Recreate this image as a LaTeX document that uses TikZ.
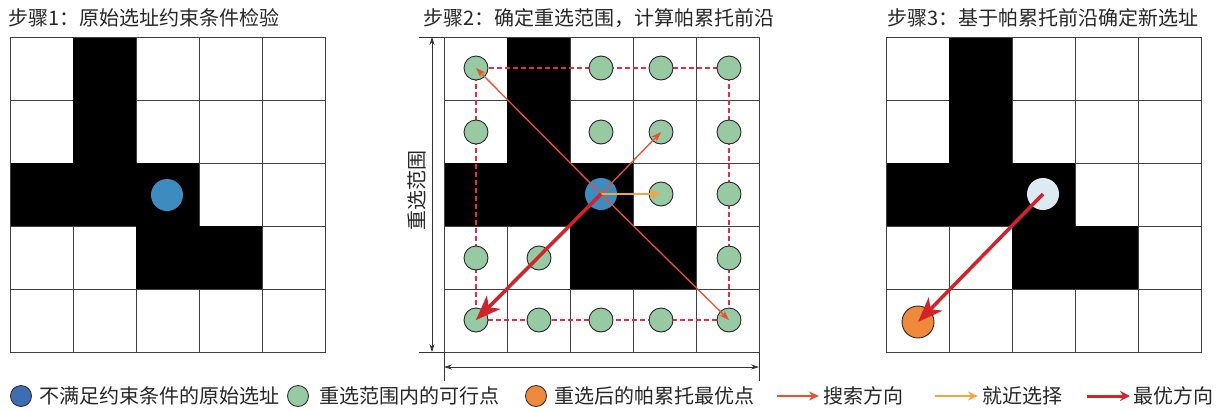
\documentclass[tikz,border=0pt]{standalone}
\usepackage{fontspec}
\setmainfont{Noto Sans CJK SC}
\usetikzlibrary{arrows.meta}
\definecolor{dotblue}{HTML}{3D8BBF}
\definecolor{legblue}{HTML}{3F6DB4}
\definecolor{dotgreen}{HTML}{97C9A2}
\definecolor{dotorange}{HTML}{EF8A3D}
\definecolor{dotlight}{HTML}{DCEAF2}
\definecolor{searchc}{HTML}{E9502E}
\definecolor{nearc}{HTML}{F3A644}
\definecolor{bestc}{HTML}{D2232A}
\definecolor{rangec}{HTML}{E03040}
\newcommand\mygrid[1]{%
  \begin{scope}[shift={(#1,37)}]
    \foreach \i in {0,...,5} {
      \draw[cellline] (\i*63,0) -- (\i*63,315);
      \draw[cellline] (0,\i*63) -- (315,\i*63);
    }
    \fill[black] (63,0) rectangle (126,126);
    \fill[black] (0,126) rectangle (189,189);
    \fill[black] (126,189) rectangle (252,252);
    \draw[cellline] (0,0) rectangle (315,315);
  \end{scope}}
\begin{document}
\begin{tikzpicture}[x=1pt,y=-1pt,
  cellline/.style={draw=black!75, line width=0.9pt},
  bigdot/.style={circle, minimum size=32pt, inner sep=0pt},
  gdot/.style={circle, draw=black!85, line width=0.9pt, fill=dotgreen, minimum size=24pt, inner sep=0pt},
  legdot/.style={circle, draw=black!80, line width=0.9pt, minimum size=21pt, inner sep=0pt},
  ttl/.style={font=\fontsize{20}{24}\selectfont, text=black!85, inner sep=0pt, anchor=west},
  legtxt/.style={font=\fontsize{20}{24}\selectfont, text=black!85, inner sep=0pt, anchor=west},
  search/.style={draw=searchc, line width=1.3pt, -{Stealth[length=10pt,width=7pt]}},
  nearsel/.style={draw=nearc, line width=2pt, -{Stealth[length=12pt,width=10pt]}},
  best/.style={draw=bestc, line width=3.5pt, -{Stealth[length=25pt,width=19pt,inset=7pt]}},
  dimline/.style={draw=black!80, line width=0.7pt},
  rangebox/.style={draw=rangec, line width=1.2pt, dash pattern=on 5pt off 3pt},
]
\useasboundingbox (0,0) rectangle (1217,410);

% titles
\node[ttl] (t1) at (8,18) {步骤1：原始选址约束条件检验};
\node[ttl] (t2) at (423,18) {步骤2：确定重选范围，计算帕累托前沿};
\node[ttl] (t3) at (887,18) {步骤3：基于帕累托前沿确定新选址};

% grids
\mygrid{10}
\mygrid{444}
\mygrid{886}

% step 1
\node[bigdot, fill=dotblue] (b1) at (167,195) {};

% step 2 range box
\coordinate (rtl) at (476,68);
\coordinate (rbr) at (729,320);
\draw[rangebox] (rtl) rectangle (rbr);

% dimension lines
\coordinate (et1) at (419,37);  \coordinate (et2) at (444,37);
\coordinate (eb1) at (419,352); \coordinate (eb2) at (444,352);
\draw[dimline] (et1) -- (et2);
\draw[dimline] (eb1) -- (eb2);
\coordinate (vt) at (432,37); \coordinate (vb) at (432,352);
\draw[dimline, {Stealth[length=8pt,width=5pt]}-{Stealth[length=8pt,width=5pt]}] (vt) -- (vb);
\coordinate (el1) at (444,352); \coordinate (el2) at (444,381);
\coordinate (er1) at (759,352); \coordinate (er2) at (759,381);
\draw[dimline] (el1) -- (el2);
\draw[dimline] (er1) -- (er2);
\coordinate (hl) at (444,367); \coordinate (hr) at (759,367);
\draw[dimline, {Stealth[length=8pt,width=5pt]}-{Stealth[length=8pt,width=5pt]}] (hl) -- (hr);
\node[font=\fontsize{20}{24}\selectfont, text=black!85, rotate=90, inner sep=0pt] (vlab) at (417,190) {重选范围};

% step 2 dots
\node[gdot] (g00) at (rtl) {};
\node[gdot] (g02) at (601,68) {};
\node[gdot] (g03) at (661,68) {};
\node[gdot] (g04) at (729,68) {};
\node[gdot] (g10) at (476,132) {};
\node[gdot] (g12) at (601,132) {};
\node[gdot] (g13) at (661,132) {};
\node[gdot] (g14) at (729,132) {};
\node[gdot] (g23) at (661,194) {};
\node[gdot] (g24) at (729,194) {};
\node[gdot] (g30) at (476,258) {};
\node[gdot] (g31) at (539,258) {};
\node[gdot] (g34) at (729,258) {};
\node[gdot] (g40) at (476,320) {};
\node[gdot] (g41) at (539,320) {};
\node[gdot] (g42) at (601,320) {};
\node[gdot] (g43) at (661,320) {};
\node[gdot] (g44) at (rbr) {};
\node[bigdot, fill=dotblue] (b2) at (601,194) {};

% step 2 arrows
\draw[search] (b2.center) -- (g00.center);
\draw[search] (b2.center) -- (g13.center);
\draw[search] (b2.center) -- (g44.center);
\draw[search] (b2.center) -- (g40.center);
\draw[nearsel] (b2.center) -- (g23.center);
\draw[best] (b2.center) -- (g40.center);

% step 3
\node[bigdot, fill=dotlight] (b3) at (1043,194) {};
\node[bigdot, fill=dotorange, draw=black!85, line width=0.9pt] (o3) at (918,322) {};
\draw[best] (b3.center) -- (o3.center);

% legend
\node[legdot, fill=legblue] (l1) at (21,396) {};
\node[legtxt] (l1t) at (39,396) {不满足约束条件的原始选址};
\node[legdot, fill=dotgreen] (l2) at (298,396) {};
\node[legtxt] (l2t) at (319,396) {重选范围内的可行点};
\node[legdot, fill=dotorange] (l3) at (536,396) {};
\node[legtxt] (l3t) at (554,396) {重选后的帕累托最优点};
\coordinate (a1s) at (777,396); \coordinate (a1e) at (819,396);
\draw[draw=searchc, line width=2pt, -{Stealth[length=10pt,width=9pt]}] (a1s) -- (a1e);
\node[legtxt] (a1t) at (823,396) {搜索方向};
\coordinate (a2s) at (935,396); \coordinate (a2e) at (978,396);
\draw[draw=nearc, line width=2pt, -{Stealth[length=10pt,width=9pt]}] (a2s) -- (a2e);
\node[legtxt] (a2t) at (982,396) {就近选择};
\coordinate (a3s) at (1087,396); \coordinate (a3e) at (1130,396);
\draw[draw=bestc, line width=3pt, -{Stealth[length=10pt,width=10pt]}] (a3s) -- (a3e);
\node[legtxt] (a3t) at (1133,396) {最优方向};
\end{tikzpicture}
\end{document}
